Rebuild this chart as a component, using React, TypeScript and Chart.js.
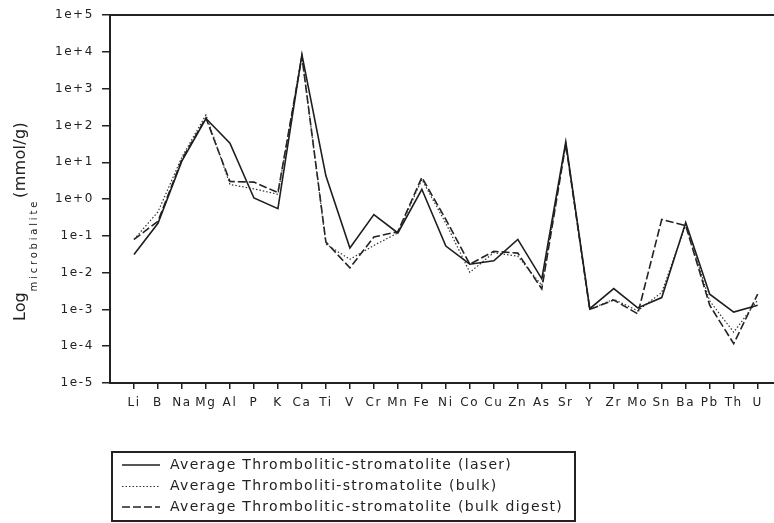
import React, { useEffect, useRef } from "react";
import { Chart, registerables } from "chart.js";

Chart.register(...registerables);

const categories = ["Li", "B", "Na", "Mg", "Al", "P", "K", "Ca", "Ti", "V", "Cr", "Mn", "Fe", "Ni", "Co", "Cu", "Zn", "As", "Sr", "Y", "Zr", "Mo", "Sn", "Ba", "Pb", "Th", "U"];

const laser = [0.031, 0.22, 11, 155, 33, 1.07, 0.55, 8500, 4.3, 0.047, 0.38, 0.12, 1.85, 0.053, 0.017, 0.021, 0.08, 0.0068, 36, 0.00105, 0.0037, 0.0011, 0.0021, 0.23, 0.0026, 0.00085, 0.0013];
const bulk = [0.08, 0.45, 14, 195, 2.5, 1.9, 1.35, 8000, 0.06, 0.023, 0.055, 0.12, 3.4, 0.22, 0.0102, 0.035, 0.028, 0.0045, 33, 0.001, 0.0019, 0.00092, 0.0029, 0.2, 0.0017, 0.00024, 0.0018];
const bulkDigest = [0.08, 0.25, 12, 160, 3.0, 2.9, 1.5, 7500, 0.068, 0.0135, 0.093, 0.13, 3.9, 0.28, 0.017, 0.038, 0.034, 0.0036, 31, 0.001, 0.0018, 0.00076, 0.28, 0.19, 0.0013, 0.000117, 0.0026];

const seriesLabels = [
  "Average Thrombolitic-stromatolite (laser)",
  "Average Thromboliti-stromatolite (bulk)",
  "Average Thrombolitic-stromatolite (bulk digest)",
];

const yTickValues = [1e-5, 1e-4, 1e-3, 1e-2, 1e-1, 1e0, 1e1, 1e2, 1e3, 1e4, 1e5];
const yTickLabels = ["1e-5", "1e-4", "1e-3", "1e-2", "1e-1", "1e+0", "1e+1", "1e+2", "1e+3", "1e+4", "1e+5"];

const yTitleMain = "Log";
const yTitleSub = "microbialite";
const yTitleUnit = "(mmol/g)";

const FONT = '"DejaVu Sans", sans-serif';
const INK = "#222";

const styles = [
  { color: "#1e1e1e", width: 1.6, dash: [] as number[] },
  { color: "#333", width: 1.2, dash: [1.5, 2] },
  { color: "#222", width: 1.6, dash: [8, 3] },
];

const decor = {
  id: "decor",
  beforeDraw(chart: any) {
    chart.ctx.letterSpacing = "1.6px";
  },
  afterDraw(chart: any) {
    const ctx = chart.ctx;
    ctx.save();
    // y axis title
    ctx.save();
    ctx.fillStyle = INK;
    ctx.textAlign = "left";
    ctx.textBaseline = "alphabetic";
    ctx.translate(25, 321);
    ctx.rotate(-Math.PI / 2);
    ctx.font = `16px ${FONT}`;
    ctx.letterSpacing = "0px";
    ctx.fillText(yTitleMain, 0, 0);
    let pos = ctx.measureText(yTitleMain).width + 1;
    ctx.font = `10px ${FONT}`;
    ctx.letterSpacing = "2.8px";
    ctx.fillText(yTitleSub, pos, 12);
    pos += ctx.measureText(yTitleSub).width + 1;
    ctx.font = `16px ${FONT}`;
    ctx.letterSpacing = "0.3px";
    ctx.fillText(yTitleUnit, pos, 0);
    ctx.restore();

    // legend
    ctx.save();
    ctx.strokeStyle = INK;
    ctx.lineWidth = 2;
    ctx.strokeRect(112, 452, 463, 69);
    const rows = [465, 486.5, 507];
    ctx.font = `14px ${FONT}`;
    ctx.letterSpacing = "1.3px";
    ctx.textBaseline = "middle";
    ctx.textAlign = "left";
    seriesLabels.forEach((label, i) => {
      const s = styles[i];
      ctx.beginPath();
      ctx.setLineDash(s.dash);
      ctx.strokeStyle = s.color;
      ctx.lineWidth = s.width;
      ctx.moveTo(122, rows[i]);
      ctx.lineTo(160, rows[i]);
      ctx.stroke();
      ctx.setLineDash([]);
      ctx.fillStyle = INK;
      ctx.fillText(label, 170, rows[i]);
    });
    ctx.restore();
    ctx.restore();
  },
};

export default function App() {
  const ref = useRef<HTMLCanvasElement>(null);
  useEffect(() => {
    const canvas = ref.current!;
    const series = [laser, bulk, bulkDigest];
    const chart = new Chart(canvas, {
      type: "line",
      data: {
        datasets: series.map((vals, i) => ({
          label: seriesLabels[i],
          data: vals.map((v, j) => ({ x: j, y: v })),
          borderColor: styles[i].color,
          borderWidth: styles[i].width,
          borderDash: styles[i].dash,
          pointRadius: 0,
          tension: 0,
          fill: false,
        })),
      },
      options: {
        responsive: false,
        animation: false,
        devicePixelRatio: 1,
        layout: { padding: 0 },
        plugins: { legend: { display: false }, tooltip: { enabled: false }, title: { display: false } },
        scales: {
          x: {
            type: "linear",
            position: "bottom",
            min: -1,
            max: 26.68,
            afterFit(scale: any) {
              scale.height = 140;
            },
            afterBuildTicks(scale: any) {
              scale.ticks = categories.map((_, i) => ({ value: i }));
            },
            grid: { display: true, drawOnChartArea: false, drawTicks: true, tickLength: 6, color: INK, lineWidth: 1.5 },
            border: { display: true, color: INK, width: 2 },
            ticks: {
              autoSkip: false,
              maxRotation: 0,
              minRotation: 0,
              padding: 7,
              color: INK,
              font: { family: FONT, size: 12 },
              callback: (v: any) => categories[v as number] ?? "",
            },
          },
          x2: {
            type: "linear",
            position: "top",
            min: -1,
            max: 26.68,
            afterFit(scale: any) {
              scale.height = 13;
            },
            grid: { display: false },
            border: { display: true, color: INK, width: 2 },
            ticks: { display: false },
          },
          y: {
            type: "logarithmic",
            position: "left",
            min: 1e-5,
            max: 1e5,
            afterFit(scale: any) {
              scale.width = 110;
            },
            afterBuildTicks(scale: any) {
              scale.ticks = yTickValues.map((v) => ({ value: v }));
            },
            grid: { display: true, drawOnChartArea: false, drawTicks: true, tickLength: 8, color: INK, lineWidth: 1.5 },
            border: { display: true, color: INK, width: 2 },
            ticks: {
              autoSkip: false,
              padding: 8,
              color: INK,
              font: { family: FONT, size: 12 },
              callback: (v: any) => {
                const idx = yTickValues.findIndex((t) => Math.abs(Math.log10(t) - Math.log10(v as number)) < 1e-6);
                return idx >= 0 ? yTickLabels[idx] : "";
              },
            },
          },
        },
      },
      plugins: [decor],
    });
    return () => chart.destroy();
  }, []);
  return (
    <div style={{ position: "fixed", left: 0, top: 0, width: 774, height: 523, background: "#fff" }}>
      <canvas ref={ref} width={774} height={523} style={{ display: "block", width: 774, height: 523 }} />
    </div>
  );
}
